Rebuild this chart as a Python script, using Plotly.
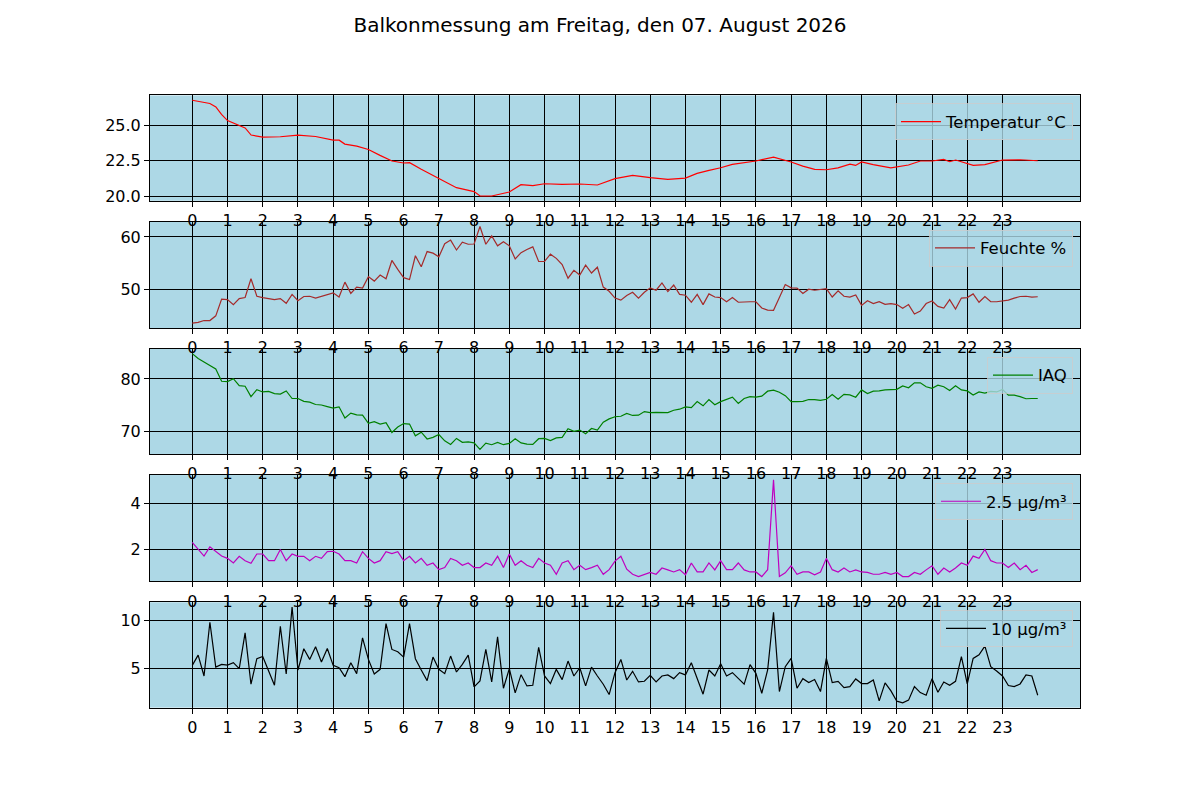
import plotly.graph_objects as go
from plotly.subplots import make_subplots

# 10-minute sampling grid, hours 0..24
times = [i / 6 for i in range(145)]

temp_times = [0, 0.5, 0.67, 0.83, 1.0, 1.5, 1.67, 2.0, 2.5, 3.0, 3.5, 4.0, 4.17, 4.33, 4.67,
              5.0, 5.33, 5.67, 6.0, 6.17, 6.5, 7.0, 7.5, 8.0, 8.17, 8.5, 9.0, 9.33, 9.67,
              10.0, 10.5, 11.0, 11.5, 12.0, 12.5, 13.0, 13.5, 14.0, 14.33, 14.67, 15.0,
              15.33, 15.67, 16.0, 16.5, 17.0, 17.33, 17.67, 18.0, 18.33, 18.67, 18.83,
              19.0, 19.33, 19.83, 20.33, 20.67, 21.0, 21.33, 21.5, 21.67, 22.0, 22.17,
              22.5, 23.0, 23.5, 24.0]
temperatur = [26.79, 26.56, 26.32, 25.78, 25.35, 24.83, 24.32, 24.17, 24.2, 24.32, 24.22,
              23.96, 23.96, 23.68, 23.54, 23.3, 22.88, 22.48, 22.34, 22.36, 21.89, 21.23,
              20.59, 20.31, 20.0, 20.0, 20.28, 20.8, 20.73, 20.87, 20.83, 20.85, 20.78,
              21.23, 21.46, 21.3, 21.18, 21.27, 21.6, 21.82, 22.0, 22.24, 22.36, 22.48,
              22.76, 22.41, 22.12, 21.89, 21.86, 22.0, 22.26, 22.17, 22.41, 22.22, 22.0,
              22.2, 22.48, 22.48, 22.6, 22.43, 22.55, 22.31, 22.17, 22.22, 22.55, 22.57, 22.5]

feuchte = [43.5, 43.65, 44.0, 44.0, 44.9, 48.1, 48.0, 47.05, 48.2, 48.4, 52.0, 48.65,
           48.4, 48.2, 48.0, 48.2, 47.3, 49.0, 47.8, 48.6, 48.65, 48.3, 48.6, 48.9,
           49.3, 48.5, 51.35, 49.2, 50.4, 50.2, 52.4, 51.55, 52.7, 52.0, 55.5, 53.8,
           52.2, 51.85, 56.4, 54.3, 57.2, 56.9, 56.2, 58.7, 59.4, 57.5, 59.0, 58.6,
           58.65, 62.0, 58.6, 60.2, 58.3, 59.1, 58.3, 55.8, 57.0, 57.6, 58.1, 55.3,
           55.3, 56.7, 55.9, 54.7, 52.1, 53.6, 52.7, 54.6, 53.1, 54.2, 50.4, 49.6,
           48.3, 47.9, 48.8, 49.4, 48.3, 49.4, 50.25, 49.8, 51.2, 49.55, 50.8, 49.0,
           48.85, 47.5, 49.0, 47.05, 49.1, 48.5, 48.4, 47.6, 48.4, 47.5, 47.6, 47.6,
           47.6, 46.4, 46.0, 45.95, 48.4, 50.9, 50.25, 50.2, 49.2, 50.0, 49.8, 49.9,
           50.1, 48.5, 49.7, 48.65, 48.5, 48.9, 46.9, 47.8, 47.25, 47.6, 47.1, 47.25,
           47.05, 46.35, 47.05, 45.25, 45.8, 47.25, 47.75, 46.7, 46.4, 48.0, 46.2, 48.3,
           48.4, 49.1, 47.5, 48.6, 47.6, 47.6, 47.8, 47.9, 48.3, 48.6, 48.65, 48.5, 48.55]

iaq = [84.84, 83.9, 83.25, 82.6, 81.9, 79.55, 79.5, 80.05, 78.7, 78.6, 76.6, 77.95,
       77.5, 77.6, 77.2, 77.1, 77.7, 76.25, 76.25, 75.7, 75.55, 75.1, 75.0, 74.7,
       74.4, 74.65, 72.5, 73.45, 73.1, 73.05, 71.5, 71.8, 71.35, 71.6, 69.75, 70.8,
       71.45, 71.35, 69.1, 69.8, 68.5, 68.8, 69.35, 68.15, 67.45, 68.6, 67.85, 67.95,
       67.75, 66.5, 67.7, 67.4, 67.85, 67.4, 67.65, 68.55, 67.75, 67.5, 67.45, 68.55,
       68.6, 68.2, 68.7, 68.8, 70.45, 69.95, 70.2, 69.5, 70.5, 70.2, 71.7, 72.35,
       72.75, 72.85, 73.4, 73.0, 73.05, 73.75, 73.55, 73.6, 73.6, 73.55, 74.0, 74.2,
       74.65, 74.5, 75.65, 74.85, 76.05, 75.05, 75.65, 76.05, 76.5, 75.3, 76.25, 76.6,
       76.5, 76.7, 77.65, 77.85, 77.45, 76.8, 75.65, 75.65, 75.7, 76.05, 76.05, 75.9,
       76.1, 77.0, 76.1, 77.05, 76.95, 76.5, 77.9, 77.2, 77.65, 77.7, 77.9, 77.95,
       78.0, 78.65, 78.3, 79.25, 79.25, 78.5, 78.2, 78.8, 78.5, 77.8, 78.7, 77.9,
       77.7, 76.9, 77.5, 77.3, 77.6, 77.5, 78.0, 76.9, 76.9, 76.6, 76.2, 76.25, 76.25]

pm25 = [2.32, 2.01, 1.72, 2.12, 1.91, 1.72, 1.62, 1.42, 1.71, 1.52, 1.41, 1.81,
        1.81, 1.52, 1.52, 2.01, 1.52, 1.81, 1.71, 1.71, 1.52, 1.71, 1.62, 1.91,
        1.93, 1.81, 1.52, 1.52, 1.42, 1.91, 1.62, 1.42, 1.52, 1.91, 1.83, 1.91,
        1.52, 1.71, 1.42, 1.62, 1.32, 1.42, 1.13, 1.22, 1.62, 1.52, 1.32, 1.42,
        1.22, 1.22, 1.42, 1.32, 1.71, 1.22, 1.81, 1.32, 1.52, 1.32, 1.22, 1.62,
        1.42, 1.32, 0.93, 1.42, 1.52, 1.13, 1.32, 1.13, 1.22, 1.32, 0.93, 1.13,
        1.5, 1.71, 1.15, 0.93, 0.83, 0.93, 1.01, 0.93, 1.2, 1.12, 1.03, 1.13,
        0.91, 1.42, 1.03, 1.03, 1.42, 1.12, 1.52, 1.13, 1.13, 1.42, 1.12, 1.03,
        1.03, 0.83, 1.13, 5.03, 0.83, 0.99, 1.3, 0.93, 1.03, 1.03, 0.91, 1.03,
        1.62, 1.13, 1.03, 1.2, 1.03, 1.12, 1.03, 1.01, 0.93, 0.93, 1.01, 0.93,
        1.01, 0.83, 0.83, 1.01, 0.93, 1.12, 1.3, 0.93, 1.2, 1.03, 1.2, 1.42,
        1.32, 1.72, 1.62, 2.01, 1.52, 1.42, 1.42, 1.22, 1.42, 1.13, 1.32, 1.01, 1.13]

pm10 = [5.28, 6.36, 4.16, 9.83, 5.1, 5.38, 5.31, 5.56, 4.93, 8.71, 3.29, 5.98,
        6.22, 4.69, 3.18, 9.41, 4.37, 11.43, 4.79, 7.03, 5.91, 7.24, 5.63, 7.06,
        5.28, 5.03, 4.09, 5.56, 4.41, 8.18, 5.91, 4.37, 4.86, 9.69, 6.96, 6.71,
        6.15, 9.69, 5.98, 4.79, 3.67, 6.15, 4.86, 4.41, 6.26, 4.58, 5.38, 6.36,
        3.01, 3.64, 6.96, 3.53, 8.29, 2.87, 4.93, 2.38, 4.3, 3.11, 3.18, 7.17,
        4.16, 3.36, 4.86, 3.78, 5.73, 4.16, 5.03, 3.11, 5.1, 4.16, 3.29, 2.2,
        4.51, 5.91, 3.74, 4.65, 3.53, 3.6, 4.23, 3.53, 4.16, 4.27, 3.88, 4.51,
        4.27, 5.56, 3.81, 2.24, 4.79, 4.16, 5.45, 4.16, 4.51, 3.92, 3.29, 5.35,
        4.44, 2.34, 4.79, 10.87, 2.52, 5.14, 6.01, 2.87, 3.88, 3.46, 3.78, 2.52,
        6.01, 3.46, 3.6, 2.94, 3.04, 3.85, 3.36, 3.36, 3.74, 1.54, 3.43, 2.59,
        1.5, 1.33, 1.61, 3.04, 2.41, 2.13, 3.88, 2.45, 3.53, 3.18, 3.6, 6.19,
        3.32, 6.01, 6.4, 7.31, 5.14, 4.69, 4.16, 3.15, 3.04, 3.32, 4.27, 4.16, 2.13]

hour_ticks = list(range(24))

panels = [
    ("Temperatur °C", temp_times, temperatur, "red", [20.0, 22.5, 25.0], ".1f"),
    ("Feuchte %", times, feuchte, "#a52a2a", [50, 60], "d"),
    ("IAQ", times, iaq, "green", [70, 80], "d"),
    ("2.5 µg/m³", times, pm25, "#bf00bf", [2, 4], "d"),
    ("10 µg/m³", times, pm10, "black", [5, 10], "d"),
]

# subplot positions in page pixels (top, bottom) as in the reference;
# the page has an 8px body margin, so shift everything by that
W, H = 1200, 800
OFF = 8
rows_px = [(96, 202), (223, 330), (351, 457), (478, 585), (606, 712)]
x_left, x_right = 150 - OFF, 1080 - OFF

fig = make_subplots(rows=5, cols=1)
font = "DejaVu Sans, Liberation Sans, sans-serif"

for i, (name, xs, ys, color, yticks, fmt) in enumerate(panels):
    r = i + 1
    lg = "legend" if i == 0 else f"legend{r}"
    fig.add_trace(go.Scatter(x=xs, y=ys, mode="lines", name=name,
                             line=dict(color=color, width=1.2), legend=lg),
                  row=r, col=1)
    lo, hi = min(ys), max(ys)
    pad = (hi - lo) * 0.05
    top, bot = rows_px[i][0] - OFF, rows_px[i][1] - OFF
    fig.update_yaxes(range=[lo - pad, hi + pad], domain=[1 - bot / H, 1 - top / H],
                     tickvals=yticks, tickformat=fmt, row=r, col=1)
    fig.update_xaxes(range=[-1.2, 25.2], domain=[x_left / W, x_right / W],
                     tickvals=hour_ticks, row=r, col=1)
    fig.update_layout({lg: dict(
        x=(x_right - 7) / W, y=1 - (top + 8) / H, xanchor="right", yanchor="top",
        bgcolor="rgba(173,216,230,0.8)", bordercolor="rgba(204,204,204,0.8)",
        borderwidth=1, font=dict(size=16.5, color="black", family=font),
        itemwidth=40)})

axis_style = dict(showline=True, linecolor="black", linewidth=1, mirror=True,
                  showgrid=True, gridcolor="black", gridwidth=1, zeroline=False,
                  ticks="outside", ticklen=5, tickcolor="black",
                  tickfont=dict(size=16, color="black", family=font))
fig.update_xaxes(**axis_style)
fig.update_yaxes(**axis_style)

fig.update_layout(
    width=W, height=H,
    margin=dict(l=0, r=0, t=0, b=0),
    paper_bgcolor="white", plot_bgcolor="#add8e6",
    font=dict(family=font, color="black"),
    title=dict(text="Balkonmessung am Freitag, den 07. August 2026",
               x=600 / W - OFF / W, xanchor="center", y=1 - (25 - OFF) / H, yanchor="middle",
               font=dict(size=20, color="black", family=font)),
    showlegend=True,
)

fig.write_html("out.html")
